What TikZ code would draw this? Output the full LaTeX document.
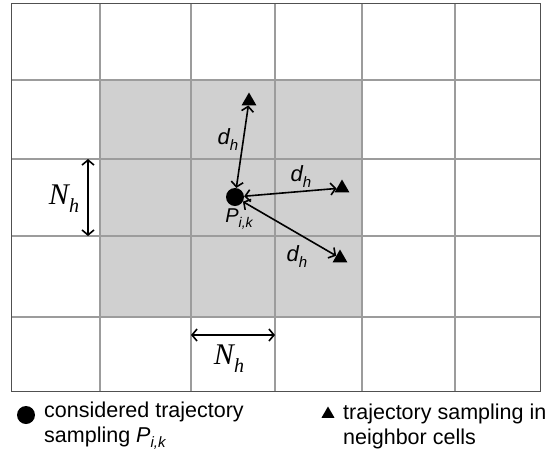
\documentclass[tikz,border=0pt]{standalone}
\usepackage{fontspec}
\setmainfont{Liberation Sans}
\newfontfamily\timesf{Liberation Serif}
\usetikzlibrary{shapes.geometric,arrows.meta}
\definecolor{shadegray}{HTML}{D0D0D0}
\definecolor{linegray}{HTML}{9C9C9C}
\definecolor{bordergray}{HTML}{505050}
\newcommand\dlab{{\fontsize{22}{24}\selectfont\itshape d\raisebox{-6pt}{\fontsize{15}{16}\selectfont h}}}
\newcommand\Plab{{\fontsize{20}{22}\selectfont\itshape P\raisebox{-5pt}{\fontsize{14}{15}\selectfont i,k}}}
\newcommand\Plegend{{\itshape P\raisebox{-5pt}{\fontsize{15}{16}\selectfont i,k}}}
\newcommand\Nlab{{\timesf\itshape\fontsize{30}{32}\selectfont N\raisebox{-8pt}{\fontsize{20}{21}\selectfont h}}}
\begin{document}
\begin{tikzpicture}[x=1pt,y=-1pt,
  gridline/.style={draw=linegray,line width=2.3pt},
  border/.style={draw=bordergray,line width=1pt},
  dot/.style={circle,fill=black,inner sep=0pt,minimum size=18pt},
  tri/.style={regular polygon,regular polygon sides=3,fill=black,inner sep=0pt,minimum size=17pt},
  trismall/.style={regular polygon,regular polygon sides=3,fill=black,inner sep=0pt,minimum size=15pt},
  dim/.style={line width=1.6pt,{Straight Barb[length=5pt,width=12pt,line width=1.6pt]}-{Straight Barb[length=5pt,width=12pt,line width=1.6pt]}},
  lab/.style={inner sep=0pt},
  legend/.style={inner sep=0pt,anchor=west,align=left,font=\fontsize{21.5}{25}\selectfont}]
\useasboundingbox (0,0) rectangle (550,459);
\fill[white] (0,0) rectangle (550,459);
\fill[shadegray] (100,80) rectangle (362,317);
\foreach \x in {100,191,275,362,455} \draw[gridline] (\x,3) -- (\x,391);
\foreach \y in {80,159,236,317} \draw[gridline] (11,\y) -- (540,\y);
\draw[border] (11,3) rectangle (540,391);
% points
\node[dot] (P) at (235,197) {};
\node[tri] (T1) at (249,101) {};
\node[tri] (T2) at (342,188) {};
\node[tri] (T3) at (340,258) {};
\draw[dim] (P) -- (T1);
\draw[dim] (P) -- (T2);
\draw[dim] (P) -- (T3);
\node[lab] (d1) at (228,140) {\dlab};
\node[lab] (d2) at (301,177) {\dlab};
\node[lab] (d3) at (297,257) {\dlab};
\node[lab] (Pl) at (239,219) {\Plab};
% N_h dimensions
\coordinate (nv1) at (88,159);
\coordinate (nv2) at (88,236);
\draw[dim] (nv1) -- (nv2);
\node[lab] (N1) at (64,199) {\Nlab};
\coordinate (nh1) at (191,335);
\coordinate (nh2) at (275,335);
\draw[dim] (nh1) -- (nh2);
\node[lab] (N2) at (229,359) {\Nlab};
% legend
\node[dot] (L1) at (26,415) {};
\node[legend] (L1t) at (44,426) {considered trajectory\\sampling \Plegend};
\node[trismall] (L2) at (328,414) {};
\node[legend] (L2t) at (343,426) {trajectory sampling in\\neighbor cells};
\end{tikzpicture}
\end{document}
